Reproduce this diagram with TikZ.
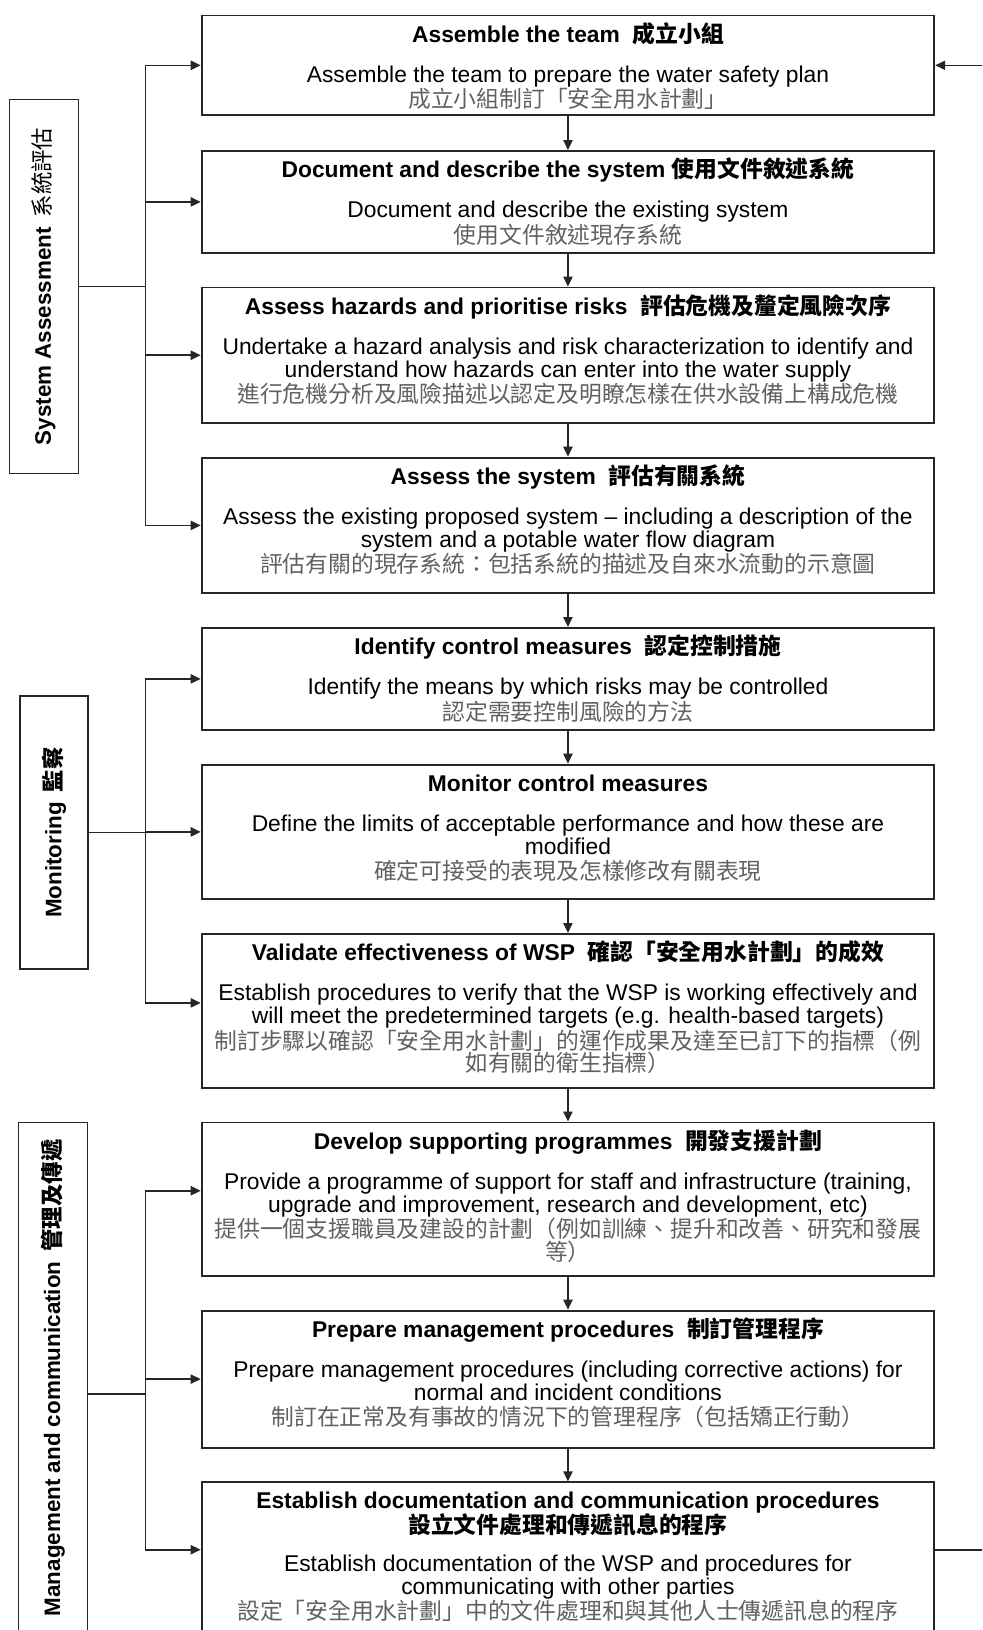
\documentclass[tikz,border=0pt]{standalone}
\usepackage{fontspec}
\setmainfont{Liberation Sans}
\newfontfamily\cjk{Noto Sans CJK TC}
\usetikzlibrary{arrows.meta,positioning}
\newcommand{\zh}[1]{{\cjk\color{black!62}#1}}
\newcommand{\zhb}[1]{{\cjk\bfseries #1}}
\newcommand{\steptext}[2]{\parbox[t][#1][t]{366.35pt}{\centering\baselineskip=11.45pt\lineskiplimit=-\maxdimen\rule{0pt}{13.3pt}#2}}
\tikzset{
    %Define standard arrow tip
    >={Triangle[length=5pt,width=4.6pt]},
    %Define style for steps
    stepbox/.style={
           rectangle,
           draw=black!85, line width=0.9pt,
           inner sep=0pt,
           font=\fontsize{11.4pt}{11.45pt}\selectfont},
    %Define style for the group labels
    sidebox/.style={
           rectangle,
           draw=black!85, line width=0.6pt,
           inner sep=0pt,
           font=\fontsize{11.2pt}{12pt}\selectfont\bfseries},
    % Define line style
    link/.style={
           line width=0.8pt,
           draw=black!85}
}
\begin{document}
\begin{tikzpicture}[node distance=16.45pt]
\useasboundingbox (0,0) rectangle (491pt,-815pt);
\clip (0,0) rectangle (491pt,-815pt);

 %steps
\node[stepbox, anchor=north](b1) at (283.98pt,-7.25pt){\steptext{49.9pt}{%
  \textbf{Assemble the team}\ \ \zhb{成立小組}\\[8.6pt]
  Assemble the team to prepare the water safety plan\\[1.3pt]
  \zh{成立小組制訂「安全用水計劃」}}};
\node[stepbox, below=17pt of b1](b2){\steptext{50.9pt}{%
  \textbf{Document and describe the system} \zhb{使用文件敘述系統}\\[8.6pt]
  Document and describe the existing system\\[1.3pt]
  \zh{使用文件敘述現存系統}}};
\node[stepbox, below=of b2](b3){\steptext{67.7pt}{%
  \textbf{Assess hazards and prioritise risks}\ \ \zhb{評估危機及釐定風險次序}\\[8.6pt]
  Undertake a hazard analysis and risk characterization to identify and\\
  understand how hazards can enter into the water supply\\[1.3pt]
  \zh{進行危機分析及風險描述以認定及明瞭怎樣在供水設備上構成危機}}};
\node[stepbox, below=of b3](b4){\steptext{67.8pt}{%
  \textbf{Assess the system}\ \ \zhb{評估有關系統}\\[8.6pt]
  Assess the existing proposed system -- including a description of the\\
  system and a potable water flow diagram\\[1.3pt]
  \zh{評估有關的現存系統：包括系統的描述及自來水流動的示意圖}}};
\node[stepbox, below=of b4](b5){\steptext{51pt}{%
  \textbf{Identify control measures}\ \ \zhb{認定控制措施}\\[8.6pt]
  Identify the means by which risks may be controlled\\[1.3pt]
  \zh{認定需要控制風險的方法}}};
\node[stepbox, below=of b5](b6){\steptext{67.3pt}{%
  \textbf{Monitor control measures}\\[8.6pt]
  Define the limits of acceptable performance and how these are\\
  modified\\[1.3pt]
  \zh{確定可接受的表現及怎樣修改有關表現}}};
\node[stepbox, below=of b6](b7){\steptext{76.9pt}{%
  \textbf{Validate effectiveness of WSP}\ \ \zhb{確認「安全用水計劃」的成效}\\[8.6pt]
  Establish procedures to verify that the WSP is working effectively and\\
  will meet the predetermined targets (e.g. health-based targets)\\[1.3pt]
  \zh{制訂步驟以確認「安全用水計劃」的運作成果及達至已訂下的指標（例}\\
  \zh{如有關的衛生指標）}}};
\node[stepbox, below=of b7](b8){\steptext{76.75pt}{%
  \textbf{Develop supporting programmes}\ \ \zhb{開發支援計劃}\\[8.6pt]
  Provide a programme of support for staff and infrastructure (training,\\
  upgrade and improvement, research and development, etc)\\[1.3pt]
  \zh{提供一個支援職員及建設的計劃（例如訓練、提升和改善、研究和發展}\\
  \zh{等）}}};
\node[stepbox, below=of b8](b9){\steptext{68.5pt}{%
  \textbf{Prepare management procedures}\ \ \zhb{制訂管理程序}\\[8.6pt]
  Prepare management procedures (including corrective actions) for\\
  normal and incident conditions\\[1.3pt]
  \zh{制訂在正常及有事故的情況下的管理程序（包括矯正行動）}}};
\node[stepbox, below=of b9](b10){\steptext{95pt}{%
  \textbf{Establish documentation and communication procedures}\\[0.65pt]
  \zhb{設立文件處理和傳遞訊息的程序}\\[7.65pt]
  Establish documentation of the WSP and procedures for\\
  communicating with other parties\\[1.3pt]
  \zh{設定「安全用水計劃」中的文件處理和與其他人士傳遞訊息的程序}}};

 %groups
\node[sidebox, minimum width=34.45pt, minimum height=186.9pt](sa) at (21.9pt,-143.2pt)
  {\rotatebox{90}{System Assessment\hspace{5pt}{\cjk\mdseries 系統評估}}};
\node[sidebox, minimum width=34pt, minimum height=136.5pt](mon) at (27pt,-416.25pt)
  {\rotatebox{90}{Monitoring\hspace{5pt}{\cjk 監察}}};
\node[sidebox, minimum width=34.3pt, minimum height=255.2pt](mgmt) at (26.4pt,-688.9pt)
  {\rotatebox{90}{Management and communication\hspace{5pt}{\cjk 管理及傳遞}}};

\coordinate (bus) at (72.65pt,0);
\coordinate (e7) at ([yshift=3.95pt]b7.west);
\coordinate (e8) at ([yshift=4.2pt]b8.west);
\coordinate (e10) at ([yshift=-34.15pt]b10.north west);
\coordinate (r10) at (e10 -| b10.east);
\coordinate (ml) at ([yshift=-8.1pt]mgmt.east);
\coordinate (back) at ([xshift=33pt]b1.east);

 %links
\draw[link] (sa.east) -- (bus |- sa.east);
\draw[link] (bus |- b1.west) -- (bus |- b4.west);
\draw[link] (mon.east) -- (bus |- mon.east);
\draw[link] (bus |- b5.west) -- (bus |- e7);
\draw[link] (ml) -- (bus |- ml);
\draw[link] (bus |- e8) -- (bus |- e10);
\foreach \e in {b1.west,b2.west,b3.west,b4.west,b5.west,b6.west,e7,e8,b9.west,e10}
  \draw[link,->] (bus |- \e) -- (\e);

\foreach \a/\b in {b1/b2,b2/b3,b3/b4,b4/b5,b5/b6,b6/b7,b7/b8,b8/b9,b9/b10}
  \draw[link,->] (\a) -- (\b);

\draw[link,->] (r10) -| (back) -- (b1.east);
\end{tikzpicture}
\end{document}
